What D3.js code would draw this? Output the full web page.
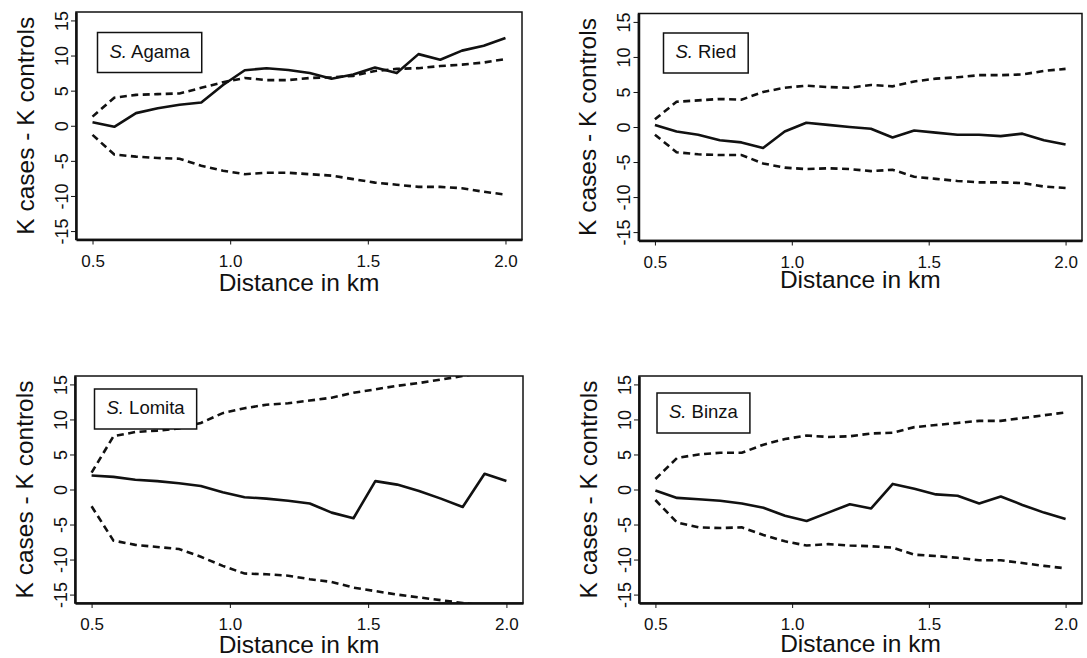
<!DOCTYPE html>
<html>
<head>
<meta charset="utf-8">
<script src="https://cdn.jsdelivr.net/npm/d3@7"></script>
<style>
  body { margin: 0; background: #fff; }
  svg { display: block; font-family: "Liberation Sans", Arial, sans-serif; }
  .box { fill: none; stroke: #111; stroke-width: 1.5; }
  .axis path, .axis line { stroke: #111; }
  .axis path { stroke-width: 2.5; }
  .axis line { stroke-width: 1; }
  .axis text { fill: #111; font-family: "Liberation Sans", Arial, sans-serif; }
  .observed { fill: none; stroke: #111; stroke-width: 2.6; stroke-linejoin: round; }
  .envelope { fill: none; stroke: #111; stroke-width: 2.6; stroke-dasharray: 7 4.5; }
  .title { font-size: 24.5px; fill: #111; }
  .legend rect { fill: #fff; stroke: #111; stroke-width: 1.5; }
  .legend text { font-size: 18.5px; fill: #111; }
</style>
</head>
<body>
<svg width="1087" height="658"></svg>
<script>
// distance (km) at which K was evaluated
const distances = [0.5, 0.579, 0.658, 0.737, 0.816, 0.895, 0.974, 1.053, 1.132, 1.211,
                   1.289, 1.368, 1.447, 1.526, 1.605, 1.684, 1.763, 1.842, 1.921, 2.0];

const serotypes = ['Agama', 'Ried', 'Lomita', 'Binza'];

// K cases - K controls, observed
const agamaObserved = [0.5, -0.15, 1.8, 2.5, 3.0, 3.3, 5.8, 7.9, 8.2, 7.95, 7.5, 6.7, 7.3, 8.3, 7.5, 10.2, 9.4, 10.7, 11.4, 12.5];
const riedObserved = [0.3, -0.65, -1.1, -1.9, -2.2, -3.0, -0.65, 0.6, 0.3, 0.0, -0.25, -1.5, -0.5, -0.8, -1.1, -1.1, -1.3, -0.95, -1.9, -2.5];
const lomitaObserved = [2.0, 1.8, 1.4, 1.2, 0.9, 0.5, -0.4, -1.1, -1.3, -1.6, -2.0, -3.3, -4.1, 1.2, 0.7, -0.2, -1.3, -2.5, 2.25, 1.2];
const binzaObserved = [-0.15, -1.2, -1.4, -1.6, -2.0, -2.6, -3.75, -4.5, -3.3, -2.1, -2.7, 0.8, 0.1, -0.7, -0.9, -2.0, -1.0, -2.2, -3.3, -4.2];

// simulation envelopes
const agamaUpper = [1.3, 4.0, 4.4, 4.5, 4.6, 5.4, 6.2, 6.8, 6.5, 6.5, 6.8, 6.9, 7.1, 7.8, 8.1, 8.2, 8.5, 8.7, 9.0, 9.5];
const agamaLower = [-1.3, -4.1, -4.4, -4.6, -4.7, -5.7, -6.4, -6.9, -6.7, -6.7, -6.9, -7.1, -7.6, -8.1, -8.4, -8.7, -8.7, -8.9, -9.4, -9.8];
const riedUpper = [1.1, 3.6, 3.8, 4.0, 3.9, 5.0, 5.6, 5.9, 5.7, 5.6, 6.0, 5.8, 6.5, 6.9, 7.1, 7.4, 7.4, 7.5, 8.0, 8.3];
const riedLower = [-1.1, -3.6, -3.9, -4.0, -4.0, -5.2, -5.8, -6.0, -5.9, -6.0, -6.3, -6.1, -7.1, -7.4, -7.7, -7.9, -7.9, -8.0, -8.5, -8.7];
const lomitaUpper = [2.4, 7.6, 8.2, 8.4, 8.7, 9.5, 10.9, 11.6, 12.1, 12.3, 12.7, 13.1, 13.8, 14.3, 14.8, 15.2, 15.7, 16.2, 16.7, 17.0];
const lomitaLower = [-2.4, -7.3, -7.9, -8.2, -8.5, -9.6, -10.9, -12.0, -12.1, -12.3, -12.8, -13.2, -14.0, -14.5, -15.0, -15.4, -15.8, -16.2, -16.6, -17.0];
const binzaUpper = [1.5, 4.5, 5.0, 5.25, 5.25, 6.4, 7.2, 7.7, 7.5, 7.6, 8.0, 8.1, 8.9, 9.2, 9.5, 9.8, 9.8, 10.2, 10.6, 11.0];
const binzaLower = [-1.5, -4.7, -5.4, -5.5, -5.4, -6.5, -7.4, -8.0, -7.8, -8.0, -8.1, -8.3, -9.3, -9.5, -9.75, -10.1, -10.1, -10.5, -10.9, -11.25];

const xTicks = [0.5, 1.0, 1.5, 2.0];
const yTicks = [-15, -10, -5, 0, 5, 10, 15];
const xLabel = 'Distance in km';
const yLabel = 'K cases - K controls';

const observed = [agamaObserved, riedObserved, lomitaObserved, binzaObserved];
const upper = [agamaUpper, riedUpper, lomitaUpper, binzaUpper];
const lower = [agamaLower, riedLower, lomitaLower, binzaLower];

// panel placement (page pixels)
const layout = [
  {left: 76,    right: 522,  top: 12,   bottom: 239.5, legX: 97.5, legY: 32.5, titleDy: 51},
  {left: 638.5, right: 1082, top: 13.5, bottom: 240.5, legX: 663.5, legY: 33,  titleDy: 47},
  {left: 75,    right: 523,  top: 376,  bottom: 603,   legX: 94.5, legY: 389,  titleDy: 50},
  {left: 639,   right: 1082, top: 376,  bottom: 603,   legX: 657,  legY: 393,  titleDy: 49}
];

const svg = d3.select('svg');

serotypes.forEach((name, k) => {
  const p = layout[k];
  const x = d3.scaleLinear().domain([0.44, 2.06]).range([p.left, p.right]);
  const y = d3.scaleLinear().domain([-16.2, 16.2]).range([p.bottom, p.top]);

  const g = svg.append('g').attr('class', 'panel');

  g.append('clipPath').attr('id', 'clip' + k)
    .append('rect')
      .attr('x', p.left).attr('y', p.top)
      .attr('width', p.right - p.left).attr('height', p.bottom - p.top);

  const line = d3.line()
    .x((d, i) => x(distances[i]))
    .y(d => y(d));

  const plot = g.append('g').attr('clip-path', `url(#clip${k})`);
  plot.append('path').datum(upper[k]).attr('class', 'envelope').attr('d', line);
  plot.append('path').datum(lower[k]).attr('class', 'envelope').attr('d', line);
  plot.append('path').datum(observed[k]).attr('class', 'observed').attr('d', line);

  g.append('rect').attr('class', 'box')
    .attr('x', p.left).attr('y', p.top)
    .attr('width', p.right - p.left).attr('height', p.bottom - p.top);

  // axes
  const xAxis = g.append('g').attr('class', 'axis')
    .attr('transform', `translate(0,${p.bottom})`)
    .call(d3.axisBottom(x).tickValues(xTicks).tickFormat(d3.format('.1f')).tickSize(5).tickSizeOuter(0));
  xAxis.selectAll('text')
    .attr('y', 27).attr('dy', null)
    .style('font-size', '17px');

  const yAxis = g.append('g').attr('class', 'axis')
    .attr('transform', `translate(${p.left},0)`)
    .call(d3.axisLeft(y).tickValues(yTicks).tickFormat(d => String(d)).tickSize(5).tickSizeOuter(0));
  yAxis.selectAll('text')
    .attr('x', null).attr('dy', null)
    .attr('text-anchor', 'middle')
    .attr('transform', 'translate(-8.5,0) rotate(-90)')
    .style('font-size', '18px');

  g.append('text').attr('class', 'title')
    .attr('x', (p.left + p.right) / 2)
    .attr('y', p.bottom + p.titleDy)
    .attr('text-anchor', 'middle')
    .text(xLabel);

  g.append('text').attr('class', 'title')
    .attr('text-anchor', 'middle')
    .attr('transform', `translate(${p.left - 42.5},${(p.top + p.bottom) / 2}) rotate(-90)`)
    .text(yLabel);

  // legend label
  const leg = g.append('g').attr('class', 'legend');
  const rect = leg.append('rect');
  const txt = leg.append('text')
    .attr('x', p.legX + 12)
    .attr('y', p.legY + 25);
  txt.append('tspan').style('font-style', 'italic').text('S.');
  txt.append('tspan').text(' ' + name);
  const w = txt.node().getComputedTextLength();
  rect.attr('x', p.legX).attr('y', p.legY)
    .attr('width', w + 24).attr('height', 40);
});
</script>
</body>
</html>
